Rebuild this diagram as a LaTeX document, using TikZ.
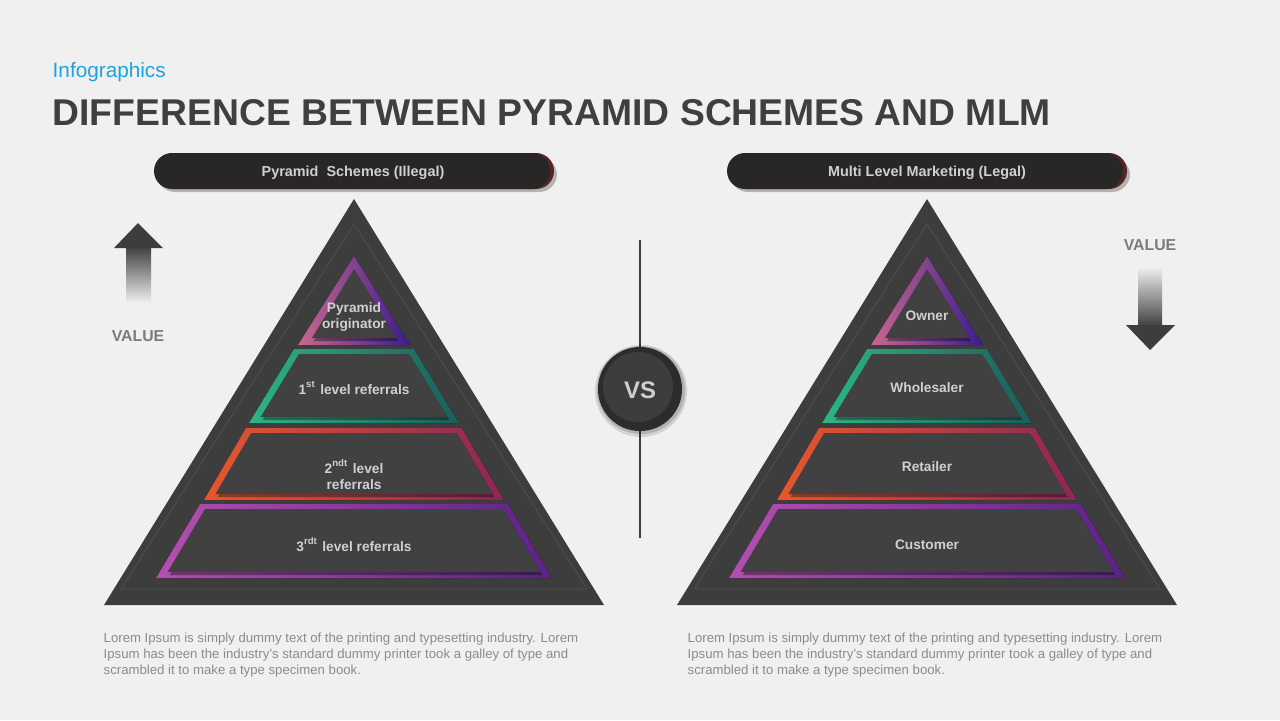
\documentclass[tikz,border=0pt]{standalone}
\usepackage{fontspec}
\setmainfont{Liberation Sans}
\definecolor{bg}{HTML}{F0F0F0}
\definecolor{tri}{HTML}{3D3D3D}
\definecolor{triline}{HTML}{494949}
\definecolor{panel}{HTML}{414141}
\definecolor{bar}{HTML}{292626}
\definecolor{barrim}{HTML}{5A2424}
\definecolor{titlec}{HTML}{3F3F3F}
\definecolor{bluec}{HTML}{1FA3DA}
\definecolor{valgray}{HTML}{7B7B7B}
\definecolor{txtgray}{HTML}{D0D0D0}
\definecolor{parac}{HTML}{8C8C8C}
\definecolor{vsout}{HTML}{2C2C2C}
\definecolor{vsin}{HTML}{3D3D3D}
\definecolor{aL}{HTML}{C8688E}\definecolor{aR}{HTML}{3B1D8C}
\definecolor{bL}{HTML}{2DB585}\definecolor{bR}{HTML}{1D5D5A}
\definecolor{cL}{HTML}{E5582C}\definecolor{cR}{HTML}{8A2755}
\definecolor{dL}{HTML}{B44FB0}\definecolor{dR}{HTML}{5A2385}
\newcommand\mytrap[7]{%
  \fill[left color=#6,right color=#7] ({#1-#4},#2) -- ({#1+#4},#2) -- ({#1+#5},#3) -- ({#1-#5},#3) -- cycle;
  \fill[black,opacity=0.35] ({#1-(#4+5*(#5-#4)/(#3-#2)-8)+2},{#2+8}) -- ({#1+(#4+5*(#5-#4)/(#3-#2)-8)+2},{#2+8}) -- ({#1+(#5-6*(#5-#4)/(#3-#2)-8)+2},{#3-3}) -- ({#1-(#5-6*(#5-#4)/(#3-#2)-8)+2},{#3-3}) -- cycle;
  \fill[panel] ({#1-(#4+5*(#5-#4)/(#3-#2)-8)},{#2+5}) -- ({#1+(#4+5*(#5-#4)/(#3-#2)-8)},{#2+5}) -- ({#1+(#5-6*(#5-#4)/(#3-#2)-8)},{#3-6}) -- ({#1-(#5-6*(#5-#4)/(#3-#2)-8)},{#3-6}) -- cycle;
}
\newcommand\mypyr[1]{%
  \fill[tri] (#1,199) -- ({#1+250},605) -- ({#1-250},605) -- cycle;
  \draw[triline,line width=0.4pt] (#1,224) -- ({#1+233},589) -- ({#1-233},589) -- cycle;
  \fill[left color=aL,right color=aR] (#1,256) -- ({#1+56},345) -- ({#1-56},345) -- cycle;
  \fill[black,opacity=0.35] ({#1+2},272) -- ({#1+44},341) -- ({#1-40},341) -- cycle;
  \fill[panel] (#1,269) -- ({#1+42},338) -- ({#1-42},338) -- cycle;
  \mytrap{#1}{349}{423}{60}{105}{bL}{bR}
  \mytrap{#1}{428}{500}{108}{150}{cL}{cR}
  \mytrap{#1}{504}{578}{154}{198}{dL}{dR}
}
\begin{document}
\begin{tikzpicture}[x=0.01cm,y=-0.01cm,
  tiertext/.style={text=txtgray,font=\bfseries\fontsize{3.9pt}{4.55pt}\selectfont,align=center,inner sep=0pt},
  bartext/.style={text=txtgray,font=\bfseries\fontsize{4.1pt}{5pt}\selectfont,inner sep=0pt},
  valtext/.style={text=valgray,font=\bfseries\fontsize{4.5pt}{5pt}\selectfont,inner sep=0pt},
  paratext/.style={text=parac,font=\fontsize{3.75pt}{4.6pt}\selectfont,align=left,inner sep=0pt,anchor=north west}]
\fill[bg] (0,0) rectangle (1280,720);
\useasboundingbox (0,0) rectangle (1280,720);

% titles
\node[anchor=base west,inner sep=0pt,text=bluec,font=\fontsize{5.9pt}{7pt}\selectfont] (infog) at (52,77) {Infographics};
\node[anchor=base west,inner sep=0pt,text=titlec,font=\bfseries\fontsize{10.6pt}{12pt}\selectfont] (title) at (52,125) {DIFFERENCE BETWEEN PYRAMID SCHEMES AND MLM};

% header bars
\foreach \cx in {354,927}{
  \fill[black,opacity=0.25,rounded corners=0.18cm] ({\cx-197},157) rectangle ({\cx+203},192);
  \fill[barrim,rounded corners=0.18cm] ({\cx-198},153) rectangle ({\cx+200},189);
  \fill[bar,rounded corners=0.18cm] ({\cx-200},153) rectangle ({\cx+196},189);
}
\node[bartext] (lhead) at (353,172.5) {Pyramid\ \ Schemes (Illegal)};
\node[bartext] (rhead) at (927,172.5) {Multi Level Marketing (Legal)};

% pyramids
\mypyr{354}
\mypyr{927}

\node[tiertext] (l1) at (354,317) {Pyramid\\originator};
\node[tiertext] (l2) at (354,388) {1\textsuperscript{st} level referrals};
\node[tiertext] (l3) at (354,475) {2\textsuperscript{ndt} level\\referrals};
\node[tiertext] (l4) at (354,545) {3\textsuperscript{rdt} level referrals};
\node[tiertext] (r1) at (927,316) {Owner};
\node[tiertext] (r2) at (927,388) {Wholesaler};
\node[tiertext] (r3) at (927,467) {Retailer};
\node[tiertext] (r4) at (927,545) {Customer};

% center divider
\coordinate (vtop) at (640,240);
\coordinate (vbot) at (640,538);
\draw[tri,line width=0.7pt] (vtop) -- (vbot);
\fill[black,opacity=0.12] (641,391) circle (0.46cm);
\fill[black,opacity=0.15] (641,390) circle (0.44cm);
\fill[vsout] (640,389) circle (0.42cm);
\fill[vsin] (638,387) circle (0.35cm);
\node[text=txtgray,font=\bfseries\fontsize{6.8pt}{7pt}\selectfont,inner sep=0pt] (vs) at (640,390) {VS};

% left value arrow
\fill[top color=tri,bottom color=bg] (126,246) rectangle (151,303);
\fill[tri] (138,223) -- (163,248) -- (114,248) -- cycle;
\node[valtext] (lval) at (138,336) {VALUE};

% right value arrow
\node[valtext] (rval) at (1150,245) {VALUE};
\fill[top color=bg,bottom color=tri] (1138,267) rectangle (1162,327);
\fill[tri] (1126,325) -- (1175,325) -- (1150,350) -- cycle;

% paragraphs
\node[paratext] (lpara) at (103,632) {Lorem Ipsum is simply dummy text of the printing and typesetting industry. Lorem\\Ipsum has been the industry's standard dummy printer took a galley of type and\\scrambled it to make a type specimen book.};
\node[paratext] (rpara) at (687,632) {Lorem Ipsum is simply dummy text of the printing and typesetting industry. Lorem\\Ipsum has been the industry's standard dummy printer took a galley of type and\\scrambled it to make a type specimen book.};
\end{tikzpicture}
\end{document}
